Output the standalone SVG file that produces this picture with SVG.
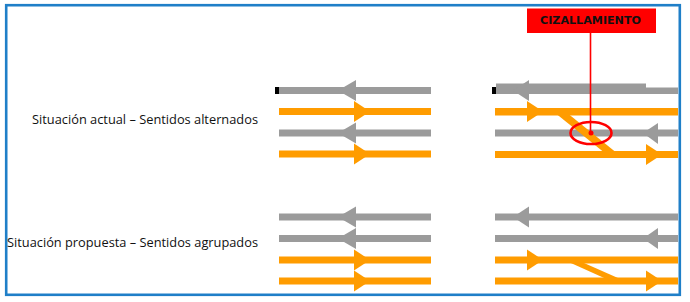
<svg xmlns="http://www.w3.org/2000/svg" width="690" height="302" viewBox="0 0 690 302">
<style>
.g{fill:#9b9b9b}
.o{fill:#ff9c00}
.k{fill:#000}
.lbl{font-family:"Open Sans","Noto Sans","Liberation Sans",sans-serif;font-size:12.8px;fill:#111}
.tag{font-family:"DejaVu Sans","Liberation Sans",Arial,sans-serif;font-size:10.5px;font-weight:bold;fill:#111}
</style>
<rect x="0" y="0" width="690" height="302" fill="#fff"/>
<rect id="frame" x="6.2" y="5.2" width="673.6" height="289.6" fill="none" stroke="#1f7fc8" stroke-width="2.6"/>

<g id="label-actual"><text class="lbl" x="32" y="123.5" textLength="226" lengthAdjust="spacingAndGlyphs">Situación actual – Sentidos alternados</text></g>
<g id="label-propuesta"><text class="lbl" x="7" y="247" textLength="251" lengthAdjust="spacingAndGlyphs">Situación propuesta – Sentidos agrupados</text></g>

<g id="actual-left">
<rect class="k" x="275" y="87" width="4" height="7"/>
<rect class="g" x="279" y="87" width="152" height="7"/>
<polygon class="g" points="338,90.5 356,80 356,101"/>
<rect class="o" x="279" y="108" width="152" height="7"/>
<polygon class="o" points="354,101 370,111.5 354,122"/>
<rect class="g" x="279" y="129.5" width="152" height="7"/>
<polygon class="g" points="338,133 356,122.5 356,143.5"/>
<rect class="o" x="279" y="150.5" width="152" height="7"/>
<polygon class="o" points="354,143.5 370,154 354,164.5"/>
</g>

<g id="actual-right">
<rect class="k" x="492" y="87" width="4" height="7"/>
<rect class="g" x="496" y="83.5" width="150" height="10.5"/>
<rect class="g" x="646" y="87.5" width="32" height="6.5"/>
<polygon class="g" points="513,90.5 529,80 529,101"/>
<rect class="o" x="495" y="108" width="183" height="7.5"/>
<polygon class="o" points="527,101 543,111.5 527,122"/>
<rect class="g" x="495" y="129.5" width="183" height="7"/>
<polygon class="g" points="643,133 658,123 658,144"/>
<rect class="o" x="495" y="151" width="183" height="7"/>
<polygon class="o" points="646,144 662,154.5 646,165"/>
<polygon class="o" points="554,112 566,112 618,154 606,154"/>
</g>

<g id="propuesta-left">
<rect class="g" x="279" y="213.5" width="152" height="7"/>
<polygon class="g" points="338,217 356,206.5 356,227.5"/>
<rect class="g" x="279" y="235" width="152" height="7"/>
<polygon class="g" points="338,238.5 356,228 356,249"/>
<rect class="o" x="279" y="256.5" width="152" height="7"/>
<polygon class="o" points="354,249.5 370,260 354,270.5"/>
<rect class="o" x="279" y="277.5" width="152" height="7"/>
<polygon class="o" points="354,270.5 370,281 354,291.5"/>
</g>

<g id="propuesta-right">
<rect class="g" x="495" y="213.5" width="183" height="7"/>
<polygon class="g" points="513,217 529,206.5 529,227.5"/>
<rect class="g" x="495" y="235" width="183" height="7"/>
<polygon class="g" points="643,238.5 658,228 658,249"/>
<rect class="o" x="495" y="256.5" width="183" height="7"/>
<polygon class="o" points="527,249.5 543,260 527,270.5"/>
<rect class="o" x="495" y="277.5" width="183" height="7"/>
<polygon class="o" points="646,270.5 662,281 646,291.5"/>
<polygon class="o" points="562,259 575,259 627,282 613,282"/>
</g>

<g id="connectors">
<line x1="590.5" y1="33" x2="590.5" y2="133" stroke="#ff0000" stroke-width="1.6"/>
<ellipse cx="591" cy="133" rx="20.5" ry="11" fill="none" stroke="#ff0000" stroke-width="2.6"/>
<circle cx="591" cy="133" r="2.5" fill="#ff0000"/>
</g>

<g id="tag-cizallamiento">
<rect x="527" y="8.5" width="129" height="24.5" fill="#ff0000"/>
<text class="tag" x="540" y="24" textLength="101" lengthAdjust="spacingAndGlyphs">CIZALLAMIENTO</text>
</g>
</svg>
